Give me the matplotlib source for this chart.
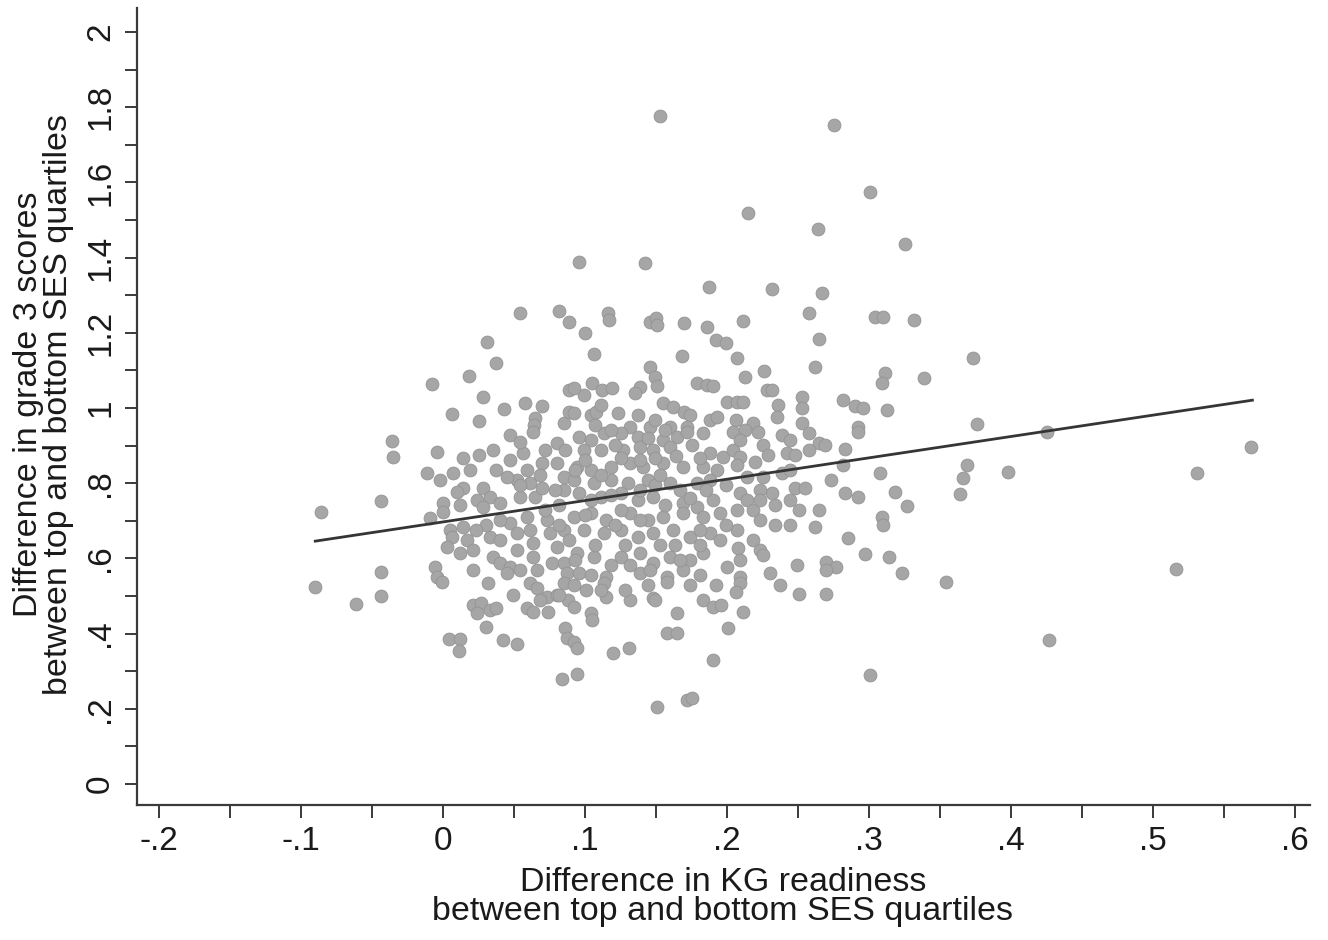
import numpy as np
import matplotlib
matplotlib.use("Agg")
import matplotlib.pyplot as plt

plt.rcParams['font.family'] = ['Liberation Sans', 'DejaVu Sans']

# difference in KG readiness (x) and grade 3 scores (y), top vs bottom SES quartile
kg_gap = [
    -0.090, -0.086, -0.061, -0.044, -0.044, -0.044, -0.036, -0.035, 0.153, 0.275,
    0.301, 0.215, 0.264, 0.325, 0.096, 0.142, 0.373, 0.339, 0.376, 0.332,
    0.425, 0.569, 0.531, 0.398, 0.369, 0.366, 0.364, 0.318, 0.327, 0.323,
    0.354, 0.516, 0.427, 0.313,
    0.054, 0.082, 0.089, 0.031, 0.037, 0.018, -0.008, 0.028, 0.006, 0.025,
    0.043, 0.058, 0.070, 0.065, 0.064, 0.085, 0.089, 0.089,
    0.187, 0.116, 0.117, 0.100, 0.146, 0.150, 0.151, 0.170, 0.186, 0.192,
    0.199, 0.106, 0.168, 0.146, 0.149, 0.151, 0.139, 0.135, 0.179, 0.186,
    0.190, 0.105, 0.112, 0.119, 0.099, 0.092, 0.200, 0.155, 0.162, 0.170,
    0.174, 0.092, 0.104, 0.108, 0.123, 0.137, 0.188, 0.193, 0.132, 0.146,
    0.160, 0.172,
    0.232, 0.267, 0.258, 0.304, 0.310, 0.211, 0.265, 0.207, 0.262, 0.213,
    0.226, 0.311, 0.309, 0.228, 0.232, 0.282, 0.290, 0.296, 0.207, 0.211,
    0.236, 0.235, 0.253, 0.253, 0.218, 0.206, 0.253, 0.292,
    -0.004, 0.014, 0.025, 0.035, 0.047, 0.063, 0.080, -0.011, -0.002, 0.007,
    0.014, 0.010, 0.028, 0.033, 0.024, 0.040, 0.028, 0.047, 0.056, 0.059,
    0.052, 0.061, 0.054, 0.065, 0.045, 0.070, 0.070, 0.080, 0.085, 0.085,
    0.000, 0.000, -0.009, 0.005, 0.006, 0.014, 0.017, 0.033, 0.047, 0.052,
    0.052, 0.059, 0.061, 0.063, 0.063, 0.066, 0.073, 0.075, 0.080, 0.077,
    0.085, 0.085, 0.003, 0.012, 0.021, -0.006, -0.004, 0.021, 0.035, 0.040,
    0.047, 0.045, 0.087,
    0.096, 0.104, 0.113, 0.125, 0.137, 0.155, 0.165, 0.172, 0.183, 0.099,
    0.111, 0.127, 0.139, 0.148, 0.160, 0.188, 0.197, 0.094, 0.104, 0.118,
    0.132, 0.141, 0.155, 0.169, 0.183, 0.193, 0.092, 0.106, 0.118, 0.130,
    0.144, 0.160, 0.179, 0.188, 0.096, 0.111, 0.125, 0.137, 0.148, 0.169,
    0.179, 0.190, 0.092, 0.104, 0.115, 0.132, 0.144, 0.155, 0.169, 0.183,
    0.195, 0.099, 0.113, 0.125, 0.137, 0.148, 0.162, 0.174, 0.188, 0.094,
    0.106, 0.125, 0.139, 0.148, 0.160, 0.174, 0.183, 0.200, 0.096, 0.115,
    0.139, 0.158, 0.169,
    0.204, 0.213, 0.222, 0.239, 0.244, 0.258, 0.265, 0.258, 0.269, 0.292,
    0.225, 0.242, 0.248, 0.283, 0.204, 0.209, 0.282, 0.308, 0.239, 0.225,
    0.214, 0.248, 0.255, 0.283, 0.292, 0.232, 0.234, 0.209, 0.214, 0.207,
    0.218, 0.251, 0.309, 0.310, 0.262, 0.234, 0.207, 0.285, 0.218, 0.223,
    0.225, 0.208, 0.297, 0.314, 0.270, 0.277, 0.270, 0.249, 0.230, 0.209,
    -0.001, 0.032, 0.061, 0.066, 0.085, 0.021, 0.027, 0.033, 0.024, 0.037,
    0.059, 0.063, 0.073, 0.080, 0.074, 0.088, 0.030, 0.086, 0.087, 0.004,
    0.012, 0.011, 0.042, 0.052, 0.084,
    0.092, 0.101, 0.113, 0.115, 0.144, 0.148, 0.158, 0.132, 0.183, 0.190,
    0.196, 0.165, 0.092, 0.104, 0.105, 0.158, 0.165, 0.092, 0.094, 0.120,
    0.131, 0.190, 0.094, 0.151, 0.172, 0.175, 0.201,
    0.209, 0.206, 0.237, 0.251, 0.270, 0.211, 0.301,
    # overlapping points inside the dense core
    0.107, 0.121, 0.144, 0.175, 0.181, 0.086, 0.072, 0.054, 0.100, 0.125,
    0.149, 0.164, 0.207, 0.220, 0.223, 0.199, 0.167, 0.149, 0.118, 0.104,
    0.082, 0.072, 0.125, 0.156, 0.199, 0.181, 0.153, 0.128, 0.107, 0.089,
    0.118, 0.104, 0.128, 0.181, 0.192, 0.146, 0.040, 0.037, 0.019, 0.068,
    0.030, 0.082, 0.049, 0.223, 0.244, 0.265, 0.244, 0.229, 0.273, 0.111,
    0.149,
    0.111, 0.139, 0.174, 0.185, 0.121, 0.139, 0.163, 0.181, 0.195, 0.100,
    0.079, 0.093, 0.153, 0.132, 0.167, 0.111, 0.068, 0.054, 0.040, 0.023,
    0.012, 0.054, 0.139, 0.118, 0.156, 0.209, 0.223, 0.244, 0.209, 0.082,
    0.093, 0.149, 0.174,
]
g3_gap = [
    0.524, 0.723, 0.479, 0.753, 0.564, 0.500, 0.912, 0.870, 1.777, 1.753,
    1.574, 1.519, 1.476, 1.436, 1.388, 1.386, 1.133, 1.080, 0.957, 1.234,
    0.936, 0.896, 0.827, 0.830, 0.848, 0.814, 0.771, 0.777, 0.739, 0.561,
    0.537, 0.572, 0.383, 0.995,
    1.253, 1.258, 1.229, 1.176, 1.120, 1.085, 1.064, 1.029, 0.984, 0.965,
    0.997, 1.013, 1.005, 0.973, 0.955, 0.960, 1.048, 0.989,
    1.322, 1.253, 1.234, 1.199, 1.229, 1.239, 1.221, 1.226, 1.215, 1.181,
    1.173, 1.144, 1.138, 1.109, 1.082, 1.059, 1.056, 1.040, 1.066, 1.061,
    1.059, 1.066, 1.048, 1.053, 1.035, 1.053, 1.016, 1.013, 1.003, 0.989,
    0.981, 0.987, 0.981, 0.989, 0.987, 0.981, 0.968, 0.976, 0.949, 0.949,
    0.949, 0.949,
    1.316, 1.306, 1.253, 1.242, 1.242, 1.231, 1.184, 1.133, 1.109, 1.082,
    1.098, 1.093, 1.066, 1.048, 1.048, 1.021, 1.005, 1.000, 1.016, 1.016,
    1.008, 0.976, 1.029, 1.000, 0.960, 0.968, 0.960, 0.949,
    0.883, 0.867, 0.875, 0.888, 0.928, 0.936, 0.907, 0.827, 0.809, 0.827,
    0.787, 0.777, 0.787, 0.763, 0.755, 0.747, 0.737, 0.862, 0.880, 0.835,
    0.809, 0.801, 0.763, 0.763, 0.816, 0.854, 0.787, 0.854, 0.816, 0.782,
    0.747, 0.723, 0.707, 0.676, 0.657, 0.684, 0.649, 0.657, 0.694, 0.668,
    0.622, 0.710, 0.676, 0.641, 0.604, 0.569, 0.702, 0.668, 0.630, 0.588,
    0.676, 0.588, 0.630, 0.614, 0.622, 0.577, 0.551, 0.569, 0.604, 0.588,
    0.577, 0.561, 0.561,
    0.923, 0.915, 0.934, 0.934, 0.923, 0.915, 0.923, 0.936, 0.934, 0.888,
    0.888, 0.888, 0.896, 0.888, 0.896, 0.880, 0.870, 0.843, 0.835, 0.843,
    0.854, 0.843, 0.854, 0.843, 0.843, 0.835, 0.809, 0.801, 0.809, 0.801,
    0.809, 0.801, 0.801, 0.809, 0.774, 0.763, 0.774, 0.755, 0.763, 0.747,
    0.737, 0.755, 0.710, 0.721, 0.702, 0.721, 0.702, 0.710, 0.721, 0.710,
    0.721, 0.676, 0.668, 0.676, 0.657, 0.668, 0.676, 0.657, 0.668, 0.614,
    0.604, 0.604, 0.614, 0.588, 0.604, 0.596, 0.614, 0.577, 0.561, 0.551,
    0.561, 0.551, 0.569,
    0.936, 0.941, 0.936, 0.928, 0.915, 0.934, 0.907, 0.888, 0.902, 0.936,
    0.902, 0.880, 0.875, 0.891, 0.888, 0.870, 0.848, 0.827, 0.827, 0.816,
    0.816, 0.787, 0.787, 0.774, 0.763, 0.774, 0.742, 0.774, 0.755, 0.729,
    0.729, 0.729, 0.710, 0.689, 0.684, 0.689, 0.676, 0.654, 0.649, 0.622,
    0.609, 0.628, 0.612, 0.604, 0.590, 0.577, 0.569, 0.582, 0.561, 0.551,
    0.537, 0.535, 0.535, 0.521, 0.535, 0.476, 0.481, 0.463, 0.455, 0.468,
    0.468, 0.457, 0.497, 0.503, 0.457, 0.489, 0.418, 0.415, 0.388, 0.386,
    0.386, 0.354, 0.383, 0.372, 0.279,
    0.529, 0.516, 0.535, 0.497, 0.529, 0.495, 0.537, 0.489, 0.489, 0.471,
    0.476, 0.455, 0.471, 0.455, 0.436, 0.402, 0.402, 0.378, 0.362, 0.348,
    0.362, 0.330, 0.293, 0.205, 0.223, 0.229, 0.415,
    0.535, 0.511, 0.529, 0.505, 0.505, 0.457, 0.290,
    # overlapping points inside the dense core
    0.955, 0.902, 0.920, 0.902, 0.867, 0.888, 0.888, 0.910, 0.862, 0.867,
    0.867, 0.872, 0.848, 0.856, 0.782, 0.795, 0.782, 0.795, 0.769, 0.755,
    0.742, 0.729, 0.729, 0.742, 0.689, 0.676, 0.636, 0.636, 0.636, 0.649,
    0.582, 0.556, 0.516, 0.556, 0.529, 0.569, 0.702, 0.835, 0.835, 0.822,
    0.689, 0.503, 0.503, 0.702, 0.689, 0.729, 0.835, 0.875, 0.809, 1.008,
    0.968,
    0.822, 0.782, 0.761, 0.782, 0.689, 0.702, 0.636, 0.636, 0.649, 0.715,
    0.782, 0.835, 0.822, 0.582, 0.596, 0.516, 0.489, 0.569, 0.649, 0.676,
    0.742, 0.795, 0.862, 0.941, 0.941, 0.915, 0.755, 0.755, 0.596, 0.689,
    0.596, 0.489, 0.529,
]

# fitted line (intercept, slope) and its x span
fit_intercept = 0.697
fit_slope = 0.568
fit_span = [-0.090, 0.570]

x_major = [-0.2, -0.1, 0.0, 0.1, 0.2, 0.3, 0.4, 0.5, 0.6]
x_labels = ['-.2', '-.1', '0', '.1', '.2', '.3', '.4', '.5', '.6']
x_minor = [-0.15, -0.05, 0.05, 0.15, 0.25, 0.35, 0.45, 0.55]
y_major = [0.0, 0.2, 0.4, 0.6, 0.8, 1.0, 1.2, 1.4, 1.6, 1.8, 2.0]
y_labels = ['0', '.2', '.4', '.6', '.8', '1', '1.2', '1.4', '1.6', '1.8', '2']
y_minor = [0.1, 0.3, 0.5, 0.7, 0.9, 1.1, 1.3, 1.5, 1.7, 1.9]

fig = plt.figure(figsize=(13.28, 9.40), dpi=100)
ax = fig.add_axes([0.1032, 0.1436, 0.8833, 0.8479])

ax.scatter(kg_gap, g3_gap, s=86, color='#a6a6a6', edgecolors='#939393',
           linewidths=0.6, zorder=2)

fx = np.array(fit_span)
ax.plot(fx, fit_intercept + fit_slope * fx, color='#353535', lw=2.0, zorder=3)

ax.set_xlim(-0.2155, 0.6106)
ax.set_ylim(-0.0559, 2.0638)

for s in ['top', 'right']:
    ax.spines[s].set_visible(False)
for s in ['left', 'bottom']:
    ax.spines[s].set_color('#3a3a3a')
    ax.spines[s].set_linewidth(1.6)

ax.set_xticks(x_major)
ax.set_xticklabels(x_labels)
ax.set_xticks(x_minor, minor=True)
ax.set_yticks(y_major)
ax.set_yticklabels(y_labels, rotation=90, va='center')
ax.set_yticks(y_minor, minor=True)

ax.tick_params(which='both', direction='out', length=9, width=1.4, color='#3a3a3a')
ax.tick_params(axis='x', which='major', labelsize=24, pad=6, labelcolor='#1a1a1a')
ax.tick_params(axis='y', which='major', labelsize=24, pad=6, labelcolor='#1a1a1a')

fig.text(0.5444, 0.0457, 'Difference in KG readiness\nbetween top and bottom SES quartiles',
         ha='center', va='center', fontsize=24.5, linespacing=0.95, color='#1a1a1a')
fig.text(0.0330, 0.5700, 'Difference in grade 3 scores\nbetween top and bottom SES quartiles',
         ha='center', va='center', fontsize=24.5, linespacing=0.95, rotation=90,
         color='#1a1a1a')

fig.savefig('out.png', dpi=100)
